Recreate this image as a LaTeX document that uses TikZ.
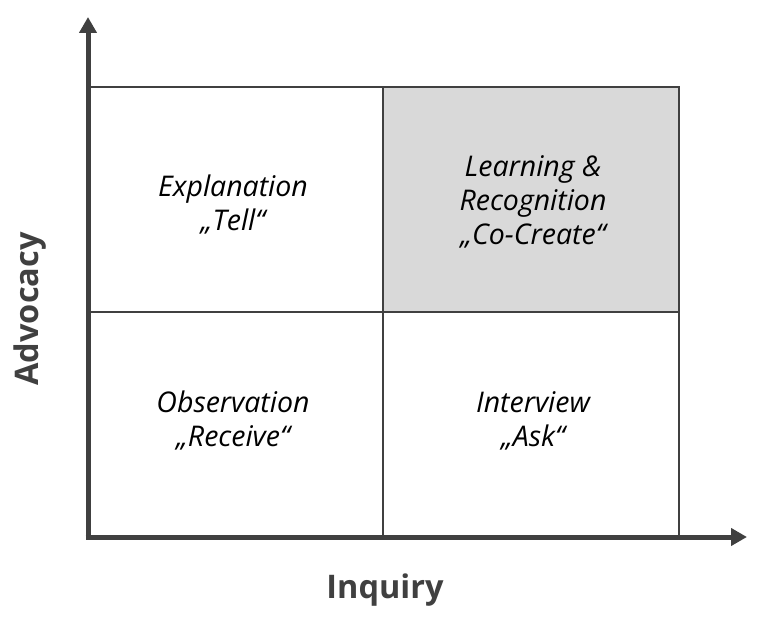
\documentclass[tikz,border=0pt]{standalone}
\usepackage{fontspec}
\setmainfont{Open Sans}
\usetikzlibrary{arrows.meta}
\definecolor{axisgray}{HTML}{404040}
\definecolor{cellgray}{HTML}{D9D9D9}
\tikzset{
  quadtext/.style={align=center, inner sep=0pt, font=\itshape\fontsize{28.5}{34}\selectfont},
  axislabel/.style={inner sep=0pt, text=axisgray, font=\bfseries\fontsize{32.5}{38}\selectfont},
  axisline/.style={draw=axisgray, line width=5pt, -{Triangle[width=17pt,length=16pt]}},
  gridline/.style={draw=axisgray, line width=1.1pt}
}
\begin{document}
\begin{tikzpicture}[x=1pt,y=1pt]
\useasboundingbox (0,0) rectangle (768,619);
% cells
\fill [cellgray] (383,307) rectangle (679,532);
\draw [gridline] (88,82) rectangle (679,532);
\draw [gridline] (383,82) -- (383,532);
\draw [gridline] (88,307) -- (679,307);
% axes
\coordinate (origin) at (88,82);
\coordinate (ytip) at (88,602);
\coordinate (xtip) at (747,82);
\draw [axisline] ([xshift=-2.5pt]origin) -- (xtip);
\draw [axisline] ([yshift=-2.5pt]origin) -- (ytip);
% labels
\node [quadtext] (tell) at (233,414) {Explanation\\„Tell“};
\node [quadtext] (cocreate) at (533,417) {Learning \&\\Recognition\\„Co-Create“};
\node [quadtext] (receive) at (233,198) {Observation\\„Receive“};
\node [quadtext] (ask) at (533,198) {Interview\\„Ask“};
\node [axislabel, rotate=90] (advocacy) at (30,310) {Advocacy};
\node [axislabel] (inquiry) at (385,29) {Inquiry};
\end{tikzpicture}
\end{document}
